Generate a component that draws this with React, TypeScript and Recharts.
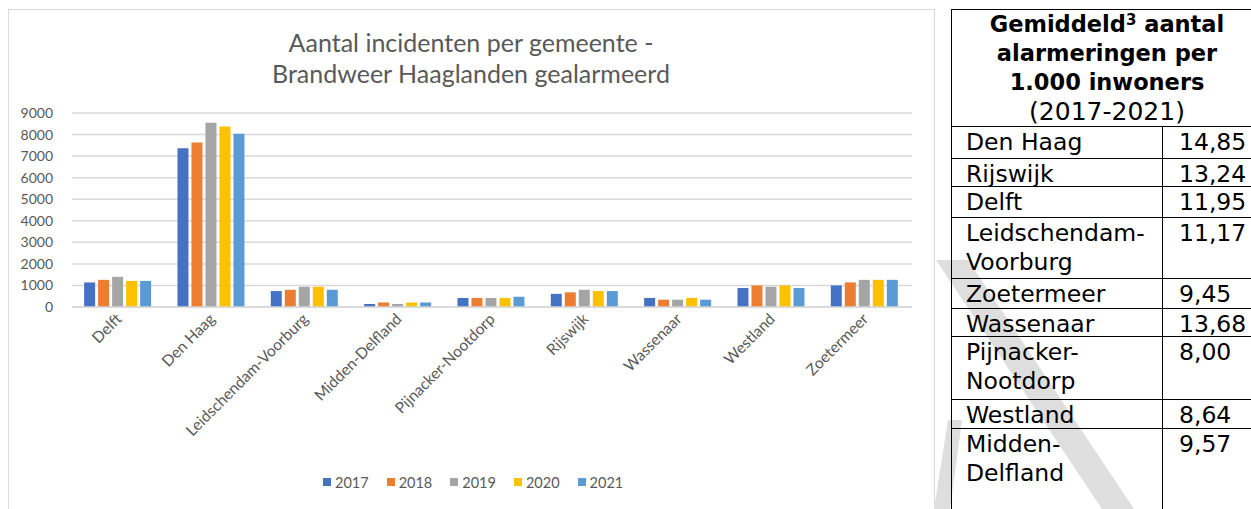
import { BarChart, Bar, XAxis, YAxis, CartesianGrid, Legend } from "recharts";

const gemeenten = [
  "Delft",
  "Den Haag",
  "Leidschendam-Voorburg",
  "Midden-Delfland",
  "Pijnacker-Nootdorp",
  "Rijswijk",
  "Wassenaar",
  "Westland",
  "Zoetermeer",
];

const jaren = ["2017", "2018", "2019", "2020", "2021"];

const v2017 = [1140, 7360, 740, 140, 420, 610, 420, 880, 1000];
const v2018 = [1260, 7630, 800, 210, 420, 680, 340, 1000, 1140];
const v2019 = [1400, 8550, 940, 140, 420, 800, 340, 940, 1260];
const v2020 = [1210, 8370, 940, 210, 420, 740, 420, 1000, 1260];
const v2021 = [1210, 8040, 800, 210, 480, 740, 340, 880, 1260];

const yTicks = [0, 1000, 2000, 3000, 4000, 5000, 6000, 7000, 8000, 9000];

const titel = ["Aantal incidenten per gemeente -", "Brandweer Haaglanden gealarmeerd"];

// tabel rechts
const tabelKop = ["Gemiddeld", "aantal", "alarmeringen per", "1.000 inwoners", "(2017-2021)"];
const tabelNamen = [
  ["Den Haag"],
  ["Rijswijk"],
  ["Delft"],
  ["Leidschendam-", "Voorburg"],
  ["Zoetermeer"],
  ["Wassenaar"],
  ["Pijnacker-", "Nootdorp"],
  ["Westland"],
  ["Midden-", "Delfland"],
];
const tabelWaarden = ["14,85", "13,24", "11,95", "11,17", "9,45", "13,68", "8,00", "8,64", "9,57"];

// rijhoogtes in px (layout)
const rijHoogte = [32, 28, 31, 61, 30, 28, 63, 29, 95];

const COLORS = ["#4472C4", "#ED7D31", "#A5A5A5", "#FFC000", "#5B9BD5"];
const series = [v2017, v2018, v2019, v2020, v2021];

const data = gemeenten.map((g, i) => {
  const row: Record<string, string | number> = { name: g };
  jaren.forEach((j, k) => {
    row[j] = series[k][i];
  });
  return row;
});

const FONT = "Lato, 'Open Sans', sans-serif";
const TXT = "#595959";
const TABFONT = "Verdana, 'DejaVu Sans', sans-serif";

function XTick(props: any) {
  const { x, y, payload } = props;
  const ax = x + 4;
  const ay = y + 13;
  return (
    <text
      x={ax}
      y={ay}
      transform={`rotate(-45, ${ax}, ${ay})`}
      textAnchor="end"
      fill={TXT}
      fontSize={15.5}
      fontFamily={FONT}
    >
      {payload.value}
    </text>
  );
}

function LegendContent() {
  return (
    <div style={{ display: "flex", height: 20, alignItems: "center" }}>
      {jaren.map((j, i) => (
        <div key={j} style={{ display: "flex", alignItems: "center", marginRight: i < jaren.length - 1 ? 18 : 0 }}>
          <span style={{ width: 8, height: 8, background: COLORS[i], display: "inline-block", marginRight: 4 }} />
          <span style={{ fontFamily: FONT, fontSize: 14.5, color: TXT }}>{j}</span>
        </div>
      ))}
    </div>
  );
}

export default function App() {
  const cell: React.CSSProperties = {
    borderTop: "1.5px solid #000",
    padding: 0,
    verticalAlign: "top",
    lineHeight: "29px",
  };
  return (
    <div
      style={{
        position: "absolute",
        left: 0,
        top: 0,
        width: 1251,
        height: 509,
        overflow: "hidden",
        background: "#fff",
      }}
    >
      {/* grafiek kader */}
      <div
        style={{
          position: "absolute",
          left: 8,
          top: 9,
          width: 925,
          height: 540,
          border: "1px solid #d9d9d9",
          background: "#fff",
        }}
      />
      <div
        style={{
          position: "absolute",
          left: 8,
          top: 27,
          width: 926,
          textAlign: "center",
          fontFamily: FONT,
          fontSize: 25,
          color: TXT,
          lineHeight: "31px",
        }}
      >
        {titel.map((t) => (
          <div key={t}>{t}</div>
        ))}
      </div>
      <div style={{ position: "absolute", left: 8, top: 10 }}>
        <BarChart
          width={926}
          height={499}
          data={data}
          margin={{ top: 103, right: 22, left: 0, bottom: 0 }}
          barCategoryGap="13%"
          barGap={3}
        >
          <CartesianGrid vertical={false} stroke="#d9d9d9" strokeWidth={1.5} />
          <XAxis
            dataKey="name"
            interval={0}
            height={182}
            tickSize={0}
            tickMargin={0}
            axisLine={{ stroke: "#d9d9d9", strokeWidth: 1.5 }}
            tickLine={false}
            tick={<XTick />}
          />
          <YAxis
            width={64}
            domain={[0, 9000]}
            ticks={yTicks}
            interval={0}
            axisLine={false}
            tickLine={false}
            tickSize={0}
            tickMargin={19}
            tick={{ fill: TXT, fontSize: 14, fontFamily: FONT }}
          />
          <Legend
            verticalAlign="bottom"
            content={<LegendContent />}
            wrapperStyle={{ top: 462, left: 315, width: 320 }}
          />
          {jaren.map((j, i) => (
            <Bar key={j} dataKey={j} fill={COLORS[i]} isAnimationActive={false} />
          ))}
        </BarChart>
      </div>

      {/* watermerk */}
      <svg style={{ position: "absolute", left: 0, top: 0 }} width={1251} height={509}>
        <polygon points="936,260 968,260 1134,509 1102,509" fill="#dedede" />
        <polygon points="948,420 962,420 950,509 934,509" fill="#dedede" />
      </svg>

      {/* tabel */}
      <table
        style={{
          position: "absolute",
          left: 951,
          top: 9,
          width: 312,
          borderCollapse: "collapse",
          fontFamily: TABFONT,
          fontSize: 23.5,
          color: "#000",
          border: "1.5px solid #000",
        }}
      >
        <tbody>
          <tr>
            <td colSpan={2} style={{ ...cell, borderTop: "none", textAlign: "center", height: 115 }}>
              <div style={{ fontWeight: "bold", fontSize: 22.5 }}>
                {tabelKop[0]}
                <sup style={{ fontSize: 15, verticalAlign: "7px", lineHeight: 0 }}>3</sup> {tabelKop[1]}
              </div>
              <div style={{ fontWeight: "bold", fontSize: 22.5 }}>{tabelKop[2]}</div>
              <div style={{ fontWeight: "bold", fontSize: 22.5 }}>{tabelKop[3]}</div>
              <div style={{ fontSize: 25 }}>{tabelKop[4]}</div>
            </td>
          </tr>
          {tabelNamen.map((n, i) => (
            <tr key={i} style={{ height: rijHoogte[i] - 1 }}>
              <td
                style={{
                  ...cell,
                  width: 196,
                  height: rijHoogte[i] - 1,
                  paddingLeft: 14,
                  borderRight: "1.5px solid #000",
                }}
              >
                {n.map((l, k) => (
                  <div key={k} style={{ height: k === n.length - 1 ? 24 : 29, lineHeight: "31px" }}>
                    {l}
                  </div>
                ))}
              </td>
              <td style={{ ...cell, paddingLeft: 16 }}>
                <div style={{ height: 24, lineHeight: "31px" }}>{tabelWaarden[i]}</div>
              </td>
            </tr>
          ))}
        </tbody>
      </table>
    </div>
  );
}
